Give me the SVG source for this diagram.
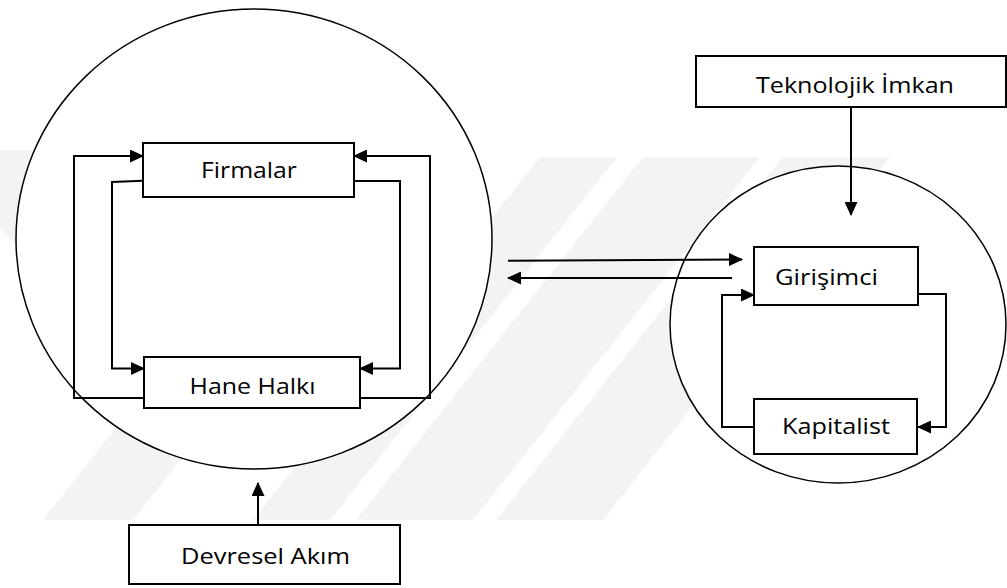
<svg xmlns="http://www.w3.org/2000/svg" width="1007" height="588" viewBox="0 0 1007 588">
<defs>
<style>
.wm{fill:#f3f3f3;stroke:none}
.ell{fill:#ffffff;stroke:#000;stroke-width:1.5}
.box{fill:#ffffff;stroke:#000;stroke-width:2}
.con{fill:none;stroke:#000;stroke-width:2}
.lbl{font-family:"Open Sans","Noto Sans","Liberation Sans",sans-serif;font-size:21px;fill:#000}
</style>
<marker id="ah" markerUnits="userSpaceOnUse" markerWidth="14" markerHeight="13" viewBox="0 0 14 13" refX="13" refY="6.5" orient="auto">
<path d="M0,0 L14,6.5 L0,13 Z" fill="#000"/>
</marker>
</defs>
<rect x="0" y="0" width="1007" height="588" fill="#ffffff"/>
<g id="watermark">
<polygon class="wm" points="0,150 34,150 120,250 20,250 0,228"/>
<polygon class="wm" points="540,157 617,157 330,520 253,520"/>
<polygon class="wm" points="643,157 760,157 473,520 356,520"/>
<polygon class="wm" points="783,157 890,157 603,520 496,520"/>
<polygon class="wm" points="330,157 420,157 133,520 43,520"/>
</g>
<g id="circle-left"><ellipse class="ell" cx="254" cy="239" rx="238" ry="230"/></g>
<g id="circle-right"><ellipse class="ell" cx="838" cy="324.5" rx="168" ry="158.5"/></g>
<g id="connectors">
<path class="con" d="M143,398 H74 V156 H143" marker-end="url(#ah)"/>
<path class="con" d="M360,398 H430 V156 H354" marker-end="url(#ah)"/>
<path class="con" d="M143,180.7 L112,182 V368.5 H144" marker-end="url(#ah)"/>
<path class="con" d="M354,181 H400 V368.5 H360" marker-end="url(#ah)"/>
<path class="con" d="M508,260.7 L742,259.5" marker-end="url(#ah)"/>
<path class="con" d="M732,278 H508" marker-end="url(#ah)"/>
<path class="con" d="M851,107 V215" marker-end="url(#ah)"/>
<path class="con" d="M918,294 H946 V427 H918" marker-end="url(#ah)"/>
<path class="con" d="M754,427 H722 V295 H754" marker-end="url(#ah)"/>
<path class="con" d="M258,525 V483" marker-end="url(#ah)"/>
</g>
<g id="node-firmalar">
<rect class="box" x="143" y="143" width="211" height="54"/>
<text class="lbl" x="201" y="177.7" textLength="96" lengthAdjust="spacingAndGlyphs">Firmalar</text>
</g>
<g id="node-hane">
<rect class="box" x="144" y="357" width="216" height="51"/>
<text class="lbl" x="189.5" y="394.3" textLength="126" lengthAdjust="spacingAndGlyphs">Hane Halkı</text>
</g>
<g id="node-teknolojik">
<rect class="box" x="696" y="56" width="310" height="51"/>
<text class="lbl" x="756" y="93.3" textLength="198" lengthAdjust="spacingAndGlyphs">Teknolojik İmkan</text>
</g>
<g id="node-girisimci">
<rect class="box" x="754" y="247" width="164" height="58"/>
<text class="lbl" x="775" y="285" textLength="103" lengthAdjust="spacingAndGlyphs">Girişimci</text>
</g>
<g id="node-kapitalist">
<rect class="box" x="754" y="399" width="163" height="55"/>
<text class="lbl" x="782" y="434.3" textLength="108" lengthAdjust="spacingAndGlyphs">Kapitalist</text>
</g>
<g id="node-devresel">
<rect class="box" x="129" y="525" width="271" height="59"/>
<text class="lbl" x="181" y="564" textLength="169" lengthAdjust="spacingAndGlyphs">Devresel Akım</text>
</g>
</svg>
